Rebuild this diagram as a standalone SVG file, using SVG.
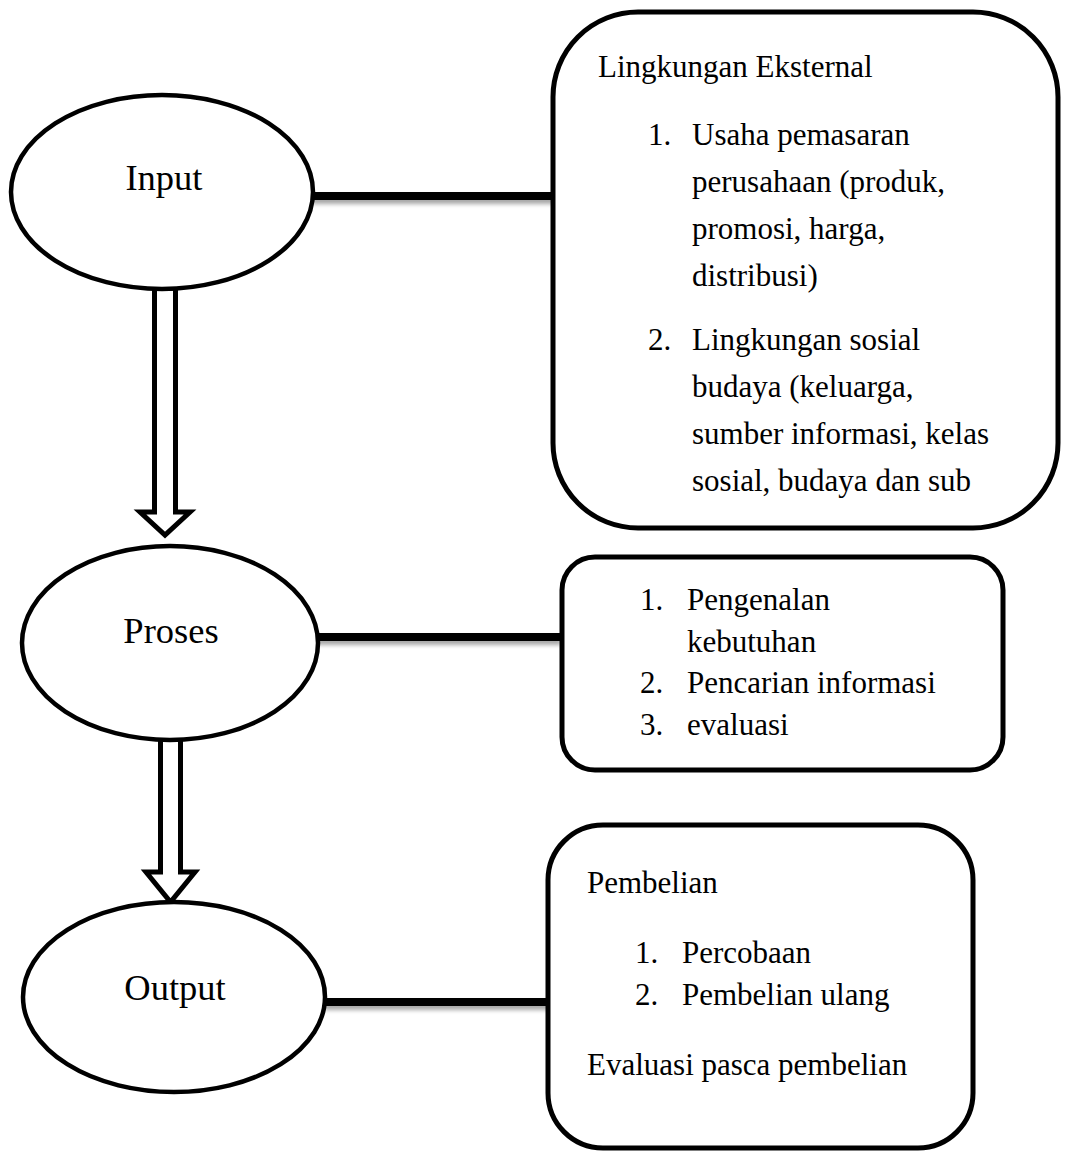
<svg xmlns="http://www.w3.org/2000/svg" width="1067" height="1151" viewBox="0 0 1067 1151">
<defs>
<filter id="sh" filterUnits="userSpaceOnUse" x="0" y="0" width="1067" height="1151">
<feGaussianBlur in="SourceAlpha" stdDeviation="2"/>
<feOffset dx="1" dy="4" result="b"/>
<feComponentTransfer><feFuncA type="linear" slope="0.35"/></feComponentTransfer>
<feMerge><feMergeNode/><feMergeNode in="SourceGraphic"/></feMerge>
</filter>
</defs>
<style>
.node{fill:#fff;stroke:#000;stroke-width:4.5}
.box{fill:#fff;stroke:#000;stroke-width:5}
.conn{fill:#000}
.arr{fill:#fff;stroke:#000;stroke-width:5;stroke-linejoin:miter}
.t{font-family:"Liberation Serif","Times New Roman",serif;fill:#000}
.big{font-size:36.5px}
.txt{font-size:31px}
</style>
<rect width="1067" height="1151" fill="#fff"/>
<g id="connectors">
<g filter="url(#sh)">
<rect class="conn" x="311" y="192" width="243" height="8"/>
<rect class="conn" x="316" y="633" width="244" height="8"/>
<rect class="conn" x="323" y="998" width="227" height="8"/>
</g>
<polygon class="arr" points="154.5,288 154.5,512 140,512 165,535 190,512 175.5,512 175.5,288"/>
<polygon class="arr" points="160.5,738 160.5,872 146,872 170.5,902 195,872 180.5,872 180.5,738"/>
</g>
<g id="input">
<ellipse class="node" cx="162" cy="192" rx="151" ry="97"/>
<text class="t big" x="164" y="190" text-anchor="middle">Input</text>
</g>
<g id="proses">
<ellipse class="node" cx="170" cy="643" rx="148" ry="97"/>
<text class="t big" x="171" y="643" text-anchor="middle">Proses</text>
</g>
<g id="output">
<ellipse class="node" cx="174" cy="997" rx="151" ry="95"/>
<text class="t big" x="175" y="1000" text-anchor="middle">Output</text>
</g>
<g id="eksternal">
<rect class="box" x="553" y="12" width="505" height="516" rx="85" ry="85"/>
<text class="t txt" x="598" y="77">Lingkungan Eksternal</text>
<text class="t txt" x="648" y="145">1.</text>
<text class="t txt" x="692" y="145">Usaha pemasaran</text>
<text class="t txt" x="692" y="192">perusahaan (produk,</text>
<text class="t txt" x="692" y="239">promosi, harga,</text>
<text class="t txt" x="692" y="286">distribusi)</text>
<text class="t txt" x="648" y="350">2.</text>
<text class="t txt" x="692" y="350">Lingkungan sosial</text>
<text class="t txt" x="692" y="397">budaya (keluarga,</text>
<text class="t txt" x="692" y="444">sumber informasi, kelas</text>
<text class="t txt" x="692" y="491">sosial, budaya dan sub</text>
</g>
<g id="proses-detail">
<rect class="box" x="562" y="557" width="441" height="213" rx="33" ry="33"/>
<text class="t txt" x="640" y="610">1.</text>
<text class="t txt" x="687" y="610">Pengenalan</text>
<text class="t txt" x="687" y="652">kebutuhan</text>
<text class="t txt" x="640" y="693">2.</text>
<text class="t txt" x="687" y="693">Pencarian informasi</text>
<text class="t txt" x="640" y="735">3.</text>
<text class="t txt" x="687" y="735">evaluasi</text>
</g>
<g id="pembelian">
<rect class="box" x="548" y="825" width="425" height="323" rx="55" ry="55"/>
<text class="t txt" x="587" y="893">Pembelian</text>
<text class="t txt" x="635" y="963">1.</text>
<text class="t txt" x="682" y="963">Percobaan</text>
<text class="t txt" x="635" y="1005">2.</text>
<text class="t txt" x="682" y="1005">Pembelian ulang</text>
<text class="t txt" x="587" y="1075">Evaluasi pasca pembelian</text>
</g>
</svg>
